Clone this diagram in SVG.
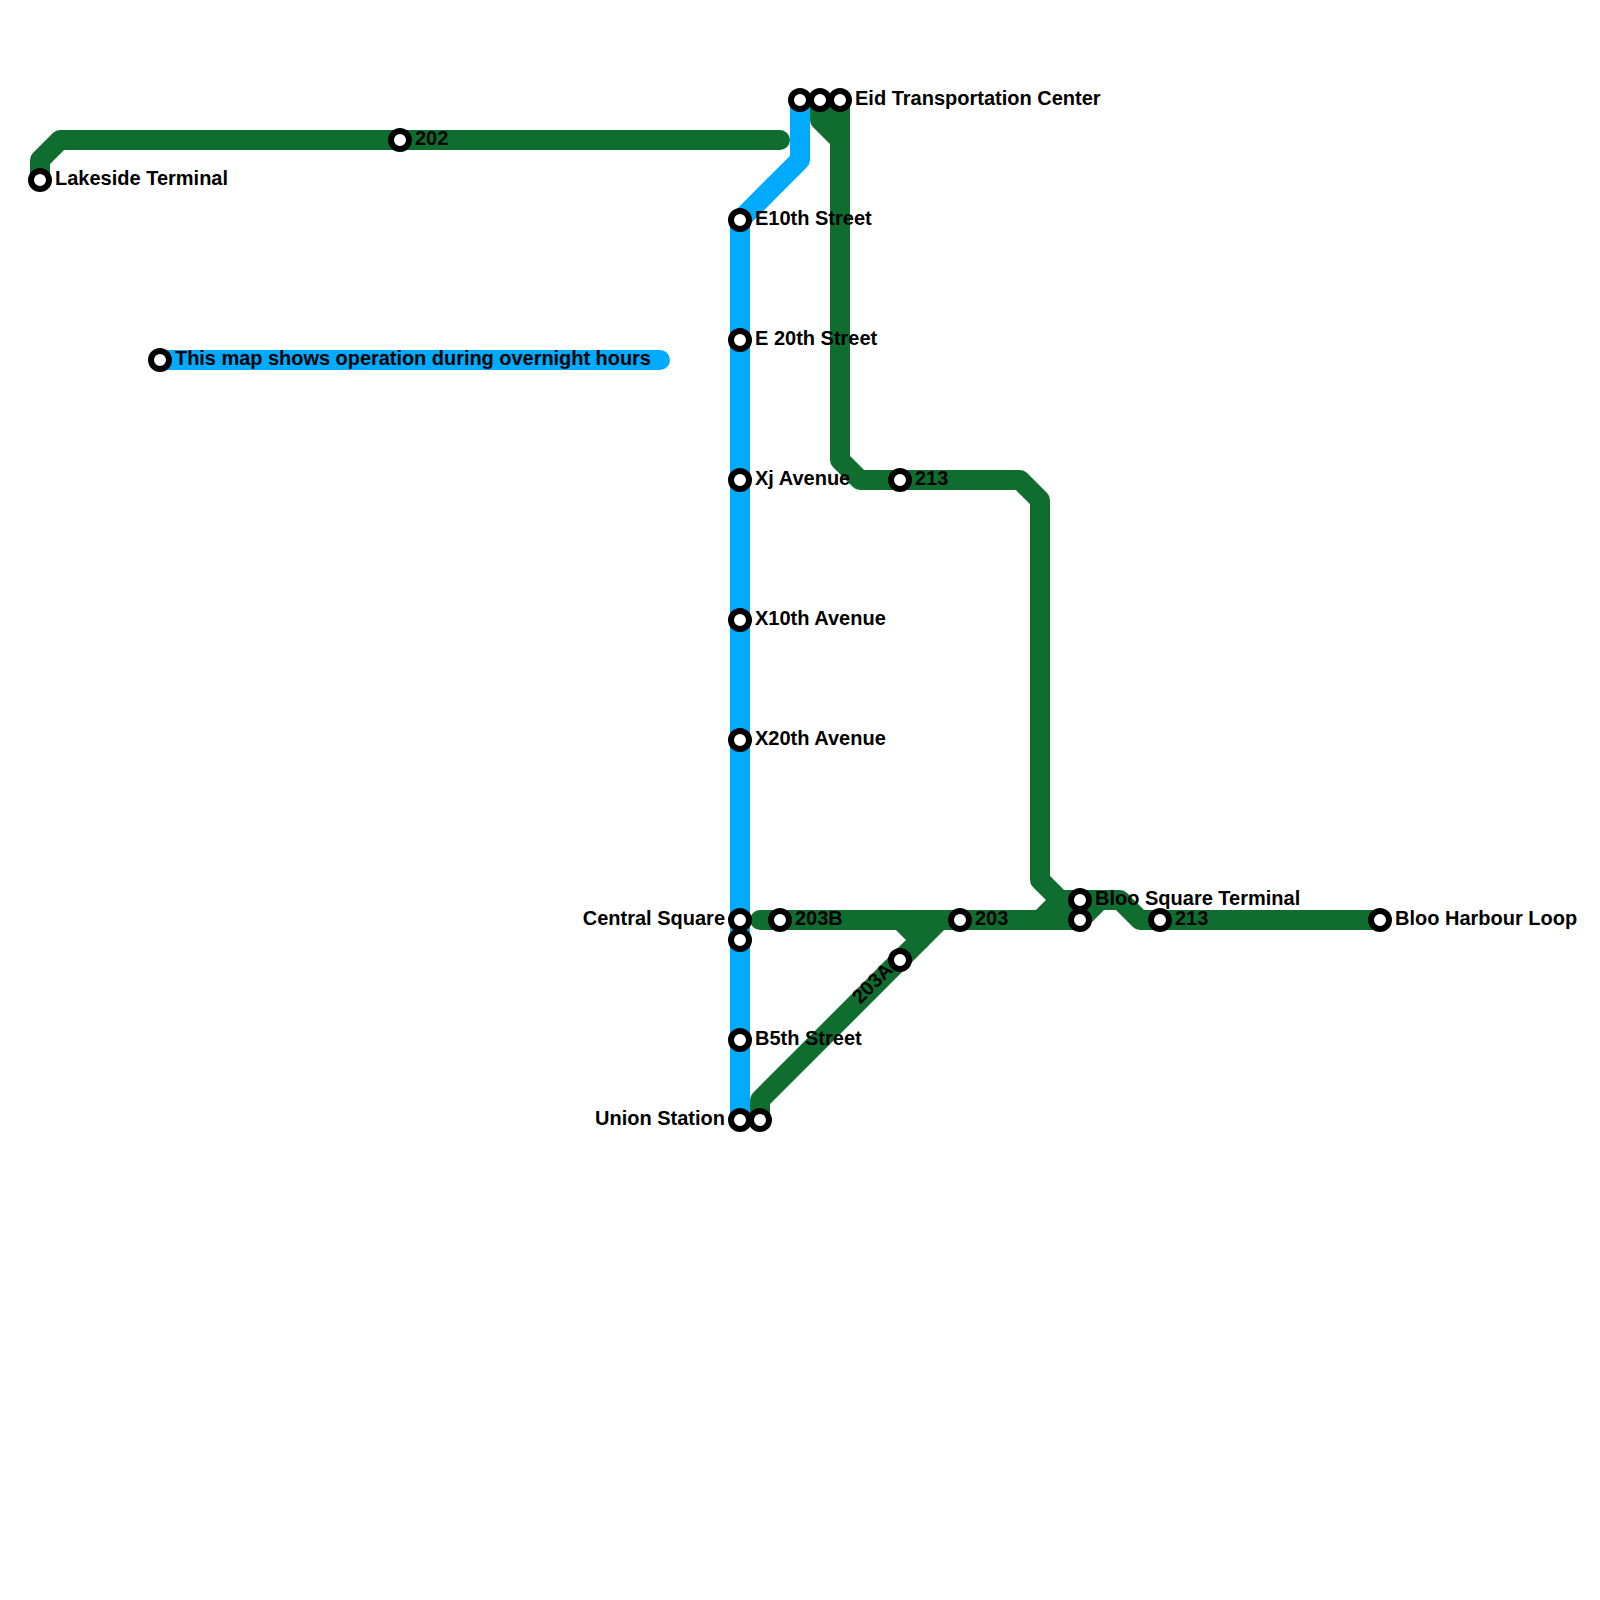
<svg xmlns="http://www.w3.org/2000/svg" width="1600" height="1600" viewBox="0 0 1600 1600">
<style>
.l{fill:none;stroke-width:20;stroke-linecap:round;stroke-linejoin:round}
.g{stroke:#0f6e2f}
.b{stroke:#00aaff}
.s{fill:#fff;stroke:#000;stroke-width:6}
text{font-family:"Liberation Sans",Arial,sans-serif;font-size:20px;font-weight:700;fill:#000}
.e{text-anchor:end}
</style>
<rect width="1600" height="1600" fill="#fff"/>
<g id="connectors">
<polyline class="l g" points="40,180 40,160 60,140 780,140"/>
<polyline class="l g" points="820,100 820,120 840,140"/>
<polyline class="l g" points="840,100 840,460 860,480 1020,480 1040,500 1040,880 1060,900 1120,900 1140,920 1380,920"/>
<polyline class="l g" points="760,920 1080,920 1100,900"/>
<polyline class="l g" points="1040,920 1060,900"/>
<polyline class="l g" points="760,1120 760,1100 940,920"/>
<polyline class="l g" points="900,920 920,940"/>
<polyline class="l b" points="800,100 800,160 740,220 740,1120"/>
<polyline class="l b" points="160,360 660,360"/>
</g>
<g id="n-lakeside"><circle class="s" cx="40" cy="180" r="9"/><text x="55" y="185">Lakeside Terminal</text></g>
<g id="n-202"><circle class="s" cx="400" cy="140" r="9"/><text x="415" y="145">202</text></g>
<g id="n-note"><circle class="s" cx="160" cy="360" r="9"/><text x="175" y="365" letter-spacing="-0.04">This map shows operation during overnight hours</text></g>
<g id="n-e1"><circle class="s" cx="800" cy="100" r="9"/></g>
<g id="n-e2"><circle class="s" cx="820" cy="100" r="9"/></g>
<g id="n-eid"><circle class="s" cx="840" cy="100" r="9"/><text x="855" y="105">Eid Transportation Center</text></g>
<g id="n-e10"><circle class="s" cx="740" cy="220" r="9"/><text x="755" y="225">E10th Street</text></g>
<g id="n-e20"><circle class="s" cx="740" cy="340" r="9"/><text x="755" y="345">E 20th Street</text></g>
<g id="n-xj"><circle class="s" cx="740" cy="480" r="9"/><text x="755" y="485">Xj Avenue</text></g>
<g id="n-x10"><circle class="s" cx="740" cy="620" r="9"/><text x="755" y="625">X10th Avenue</text></g>
<g id="n-x20"><circle class="s" cx="740" cy="740" r="9"/><text x="755" y="745">X20th Avenue</text></g>
<g id="n-central"><circle class="s" cx="740" cy="920" r="9"/><text class="e" x="725" y="925">Central Square</text></g>
<g id="n-central2"><circle class="s" cx="740" cy="940" r="9"/></g>
<g id="n-b5"><circle class="s" cx="740" cy="1040" r="9"/><text x="755" y="1045">B5th Street</text></g>
<g id="n-union"><circle class="s" cx="740" cy="1120" r="9"/><text class="e" x="725" y="1125">Union Station</text></g>
<g id="n-union2"><circle class="s" cx="760" cy="1120" r="9"/></g>
<g id="n-203b"><circle class="s" cx="780" cy="920" r="9"/><text x="795" y="925">203B</text></g>
<g id="n-203a"><circle class="s" cx="900" cy="960" r="9"/><text class="e" transform="translate(894,971) rotate(-45)">203A</text></g>
<g id="n-203"><circle class="s" cx="960" cy="920" r="9"/><text x="975" y="925">203</text></g>
<g id="n-213a"><circle class="s" cx="900" cy="480" r="9"/><text x="915" y="485">213</text></g>
<g id="n-bloo"><circle class="s" cx="1080" cy="900" r="9"/><text x="1095" y="905">Bloo Square Terminal</text></g>
<g id="n-bloo2"><circle class="s" cx="1080" cy="920" r="9"/></g>
<g id="n-213b"><circle class="s" cx="1160" cy="920" r="9"/><text x="1175" y="925">213</text></g>
<g id="n-harbour"><circle class="s" cx="1380" cy="920" r="9"/><text x="1395" y="925">Bloo Harbour Loop</text></g>
</svg>
